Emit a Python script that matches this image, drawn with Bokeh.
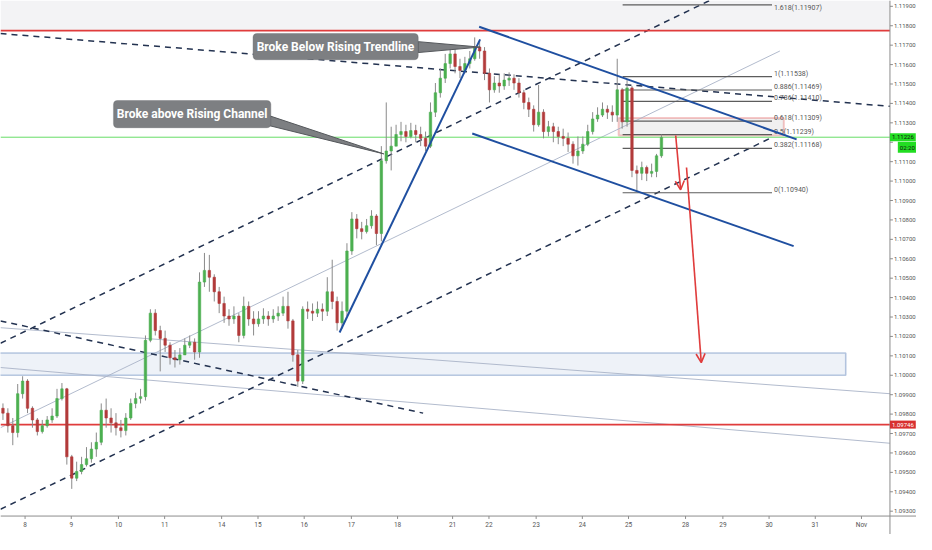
from bokeh.plotting import figure
from bokeh.models import (Range1d, BoxAnnotation, Label, Arrow, OpenHead, ColumnDataSource)
from bokeh.core.properties import value
from bokeh.embed import file_html
from bokeh.resources import INLINE

# ---------------- data (EURUSD-like candles) ----------------
first_open = 1.09830
closes = [1.09805, 1.09740, 1.09705, 1.09905, 1.09970, 1.09830, 1.09770, 1.09710, 1.09740, 1.09770,
          1.09790, 1.09880, 1.09930, 1.09580, 1.09470, 1.09505, 1.09540, 1.09570, 1.09620, 1.09655,
          1.09820, 1.09780, 1.09755, 1.09730, 1.09715, 1.09780, 1.09855, 1.09880, 1.09890, 1.10180,
          1.10320, 1.10230, 1.10190, 1.10155, 1.10090, 1.10080, 1.10105, 1.10155, 1.10170, 1.10120,
          1.10480, 1.10540, 1.10505, 1.10430, 1.10370, 1.10305, 1.10290, 1.10305, 1.10205, 1.10355,
          1.10290, 1.10265, 1.10290, 1.10305, 1.10290, 1.10305, 1.10320, 1.10355, 1.10280, 1.10105,
          1.09970, 1.10340, 1.10330, 1.10320, 1.10340, 1.10330, 1.10430, 1.10380, 1.10270, 1.10330,
          1.10640, 1.10805, 1.10755, 1.10740, 1.10770, 1.10820, 1.10730, 1.11105, 1.11155, 1.11180,
          1.11240, 1.11255, 1.11230, 1.11260, 1.11240, 1.11220, 1.11180, 1.11355, 1.11455, 1.11530,
          1.11605, 1.11655, 1.11590, 1.11570, 1.11605, 1.11630, 1.11690, 1.11670, 1.11555, 1.11470,
          1.11505, 1.11490, 1.11520, 1.11530, 1.11505, 1.11455, 1.11405, 1.11370, 1.11290, 1.11355,
          1.11255, 1.11280, 1.11255, 1.11230, 1.11220, 1.11190, 1.11130, 1.11155, 1.11190, 1.11255,
          1.11320, 1.11340, 1.11370, 1.11355, 1.11340, 1.11470, 1.11305, 1.11480, 1.11055, 1.11040,
          1.11070, 1.11040, 1.11050, 1.11130, 1.11225]
highs = [1.09855, 1.09830, 1.09780, 1.09955, 1.09995, 1.09980, 1.09840, 1.09780, 1.09770, 1.09790,
         1.09830, 1.09930, 1.09960, 1.09935, 1.09590, 1.09555, 1.09580, 1.09630, 1.09655, 1.09705,
         1.09855, 1.09880, 1.09830, 1.09805, 1.09770, 1.09805, 1.09880, 1.09910, 1.09930, 1.10205,
         1.10340, 1.10340, 1.10255, 1.10230, 1.10170, 1.10130, 1.10140, 1.10190, 1.10205, 1.10190,
         1.10530, 1.10630, 1.10620, 1.10520, 1.10455, 1.10405, 1.10340, 1.10355, 1.10320, 1.10405,
         1.10380, 1.10330, 1.10330, 1.10345, 1.10330, 1.10340, 1.10355, 1.10405, 1.10430, 1.10290,
         1.10130, 1.10355, 1.10380, 1.10370, 1.10380, 1.10370, 1.10505, 1.10595, 1.10405, 1.10380,
         1.10680, 1.10840, 1.10830, 1.10790, 1.10805, 1.10850, 1.10830, 1.11180, 1.11405, 1.11280,
         1.11290, 1.11305, 1.11290, 1.11300, 1.11290, 1.11280, 1.11255, 1.11405, 1.11505, 1.11580,
         1.11655, 1.11705, 1.11680, 1.11630, 1.11640, 1.11670, 1.11740, 1.11720, 1.11690, 1.11580,
         1.11540, 1.11550, 1.11555, 1.11560, 1.11550, 1.11530, 1.11470, 1.11430, 1.11390, 1.11495,
         1.11370, 1.11310, 1.11300, 1.11280, 1.11270, 1.11250, 1.11205, 1.11230, 1.11230, 1.11290,
         1.11355, 1.11380, 1.11405, 1.11390, 1.11390, 1.11630, 1.11480, 1.11520, 1.11490, 1.11080,
         1.11100, 1.11080, 1.11090, 1.11140, 1.11240]
lows = [1.09770, 1.09705, 1.09640, 1.09680, 1.09880, 1.09805, 1.09730, 1.09690, 1.09700, 1.09730,
        1.09755, 1.09780, 1.09870, 1.09540, 1.09415, 1.09455, 1.09490, 1.09530, 1.09550, 1.09580,
        1.09640, 1.09730, 1.09705, 1.09690, 1.09680, 1.09690, 1.09770, 1.09830, 1.09855, 1.09870,
        1.10170, 1.10205, 1.10020, 1.10120, 1.10055, 1.10040, 1.10055, 1.10105, 1.10140, 1.10080,
        1.10090, 1.10455, 1.10430, 1.10380, 1.10320, 1.10270, 1.10255, 1.10265, 1.10170, 1.10190,
        1.10255, 1.10205, 1.10250, 1.10265, 1.10255, 1.10270, 1.10280, 1.10305, 1.10240, 1.10070,
        1.09940, 1.09955, 1.10290, 1.10280, 1.10300, 1.10280, 1.10305, 1.10340, 1.10230, 1.10240,
        1.10305, 1.10620, 1.10705, 1.10700, 1.10730, 1.10755, 1.10670, 1.10690, 1.11090, 1.11055,
        1.11180, 1.11205, 1.11200, 1.11220, 1.11200, 1.11180, 1.11155, 1.11170, 1.11330, 1.11430,
        1.11505, 1.11580, 1.11555, 1.11530, 1.11555, 1.11580, 1.11620, 1.11630, 1.11520, 1.11405,
        1.11455, 1.11455, 1.11470, 1.11490, 1.11470, 1.11430, 1.11370, 1.11330, 1.11255, 1.11280,
        1.11220, 1.11230, 1.11200, 1.11190, 1.11180, 1.11150, 1.11090, 1.11080, 1.11140, 1.11180,
        1.11240, 1.11305, 1.11330, 1.11320, 1.11305, 1.11305, 1.11270, 1.11280, 1.11020, 1.10940,
        1.11005, 1.11000, 1.11020, 1.11020, 1.11120]

day_labels = ["8", "9", "10", "11", "14", "15", "16", "17", "18", "21", "22", "23", "24", "25",
              "28", "29", "30", "31", "Nov"]
day_positions = [4.5, 13.9, 23.5, 32.9, 44.5, 51.9, 61.3, 70.9, 80.3, 91.5, 98.9, 108.5, 117.9,
                 127.3, 138.9, 146.5, 155.9, 165.3, 174.7]
price_ticks = [round(1.093 + 0.001 * k, 3) for k in range(27)]
hidden_tick = 1.112          # covered by the live-price tag

# axes geometry (data units)
x_lo, x_hi = -0.5, 185.9      # full canvas width
y_lo, y_hi = 1.09180, 1.11930  # full canvas height
price_axis_x = 180.5          # vertical price-axis line
time_axis_y = 1.09275         # horizontal time-axis line

# horizontal levels
resistance_top = 1.11775
support_bottom = 1.09746
last_price = 1.11226
last_time = "02:20"

# support zone box
zone_left, zone_right, zone_bottom, zone_top = -1.0, 171.5, 1.10000, 1.10115
# fib 0.5 - 0.618 zone
fz_left, fz_right, fz_bottom, fz_top = 125.3, 158.9, 1.11235, 1.11325

# fibonacci retracement
fib_x0, fib_x1 = 126.1, 156.5
fib_ratios = ["1.618", "1", "0.886", "0.786", "0.618", "0.5", "0.382", "0"]
fib_prices = [1.11907, 1.11538, 1.11469, 1.11410, 1.11309, 1.11239, 1.11168, 1.10940]

# trend lines: (x list, price list)
rising_trend_x, rising_trend_y = [68.5, 97.1], [1.10220, 1.11730]
chan_up_x, chan_up_y = [96.9, 161.5], [1.11795, 1.11215]
chan_lo_x, chan_lo_y = [95.5, 160.9], [1.11245, 1.10665]
dash_a_x, dash_a_y = [-0.5, 147.9], [1.10165, 1.11980]
dash_b_x, dash_b_y = [-0.5, 156.1], [1.09310, 1.11220]
dash_c_x, dash_c_y = [-0.5, 180.5], [1.11760, 1.11385]
dash_d_x, dash_d_y = [-0.5, 85.5], [1.10280, 1.09805]
thin_a_x, thin_a_y = [-0.5, 158.1], [1.09730, 1.11670]
thin_b_x, thin_b_y = [-0.5, 180.5], [1.10245, 1.09905]
thin_c_x, thin_c_y = [-0.5, 180.5], [1.10040, 1.09650]

# red arrows (x0, y0, x1, y1)
arrow_1 = (136.9, 1.11235, 137.9, 1.10955)
arrow_2 = (139.1, 1.11070, 142.1, 1.10065)

# callouts
call_1_text = "Broke Below Rising Trendline"
call_1_box = (50.9, 84.5, 1.11625, 1.11760)
call_1_ptr_x, call_1_ptr_y = [84.5, 84.5, 97.1], [1.11718, 1.11662, 1.11690]
call_2_text = "Broke above Rising Channel"
call_2_box = (22.5, 54.5, 1.11275, 1.11415)
call_2_ptr_x, call_2_ptr_y = [53.8, 54.3, 77.5], [1.11340, 1.11285, 1.11140]

# ---------------- figure ----------------
p = figure(width=916, height=534, x_range=Range1d(x_lo, x_hi), y_range=Range1d(y_lo, y_hi),
           output_backend="svg", toolbar_location=None,
           x_axis_location=None, y_axis_location=None,
           min_border_left=0, min_border_top=0, min_border_right=0, min_border_bottom=0)
p.grid.visible = False
p.outline_line_color = None
p.background_fill_color = "white"
p.border_fill_color = "white"

FONT = value("Roboto")
AXC = "#8c8c8c"
LBL = "#555555"

# shaded area above top resistance
p.add_layout(BoxAnnotation(bottom=resistance_top, right=price_axis_x, fill_color="#f3f3f5",
                           fill_alpha=1.0, line_color=None, level="underlay"))
# support zone
p.add_layout(BoxAnnotation(left=zone_left, right=zone_right, bottom=zone_bottom, top=zone_top,
                           fill_color="#eef2f8", fill_alpha=1.0, line_color="#1f4fa0",
                           line_width=1.6, level="underlay"))
# fib zone
p.add_layout(BoxAnnotation(left=fz_left, right=fz_right, bottom=fz_bottom, top=fz_top,
                           fill_color="#ececec", fill_alpha=0.8, line_color="#e04848",
                           line_width=2, level="underlay"))

# thin guide lines
for xs, ys in ((thin_a_x, thin_a_y), (thin_b_x, thin_b_y), (thin_c_x, thin_c_y)):
    p.line(xs, ys, line_color="#aab4c8", line_width=1, line_alpha=0.9)

# dashed channel lines
for xs, ys in ((dash_a_x, dash_a_y), (dash_b_x, dash_b_y), (dash_c_x, dash_c_y), (dash_d_x, dash_d_y)):
    p.line(xs, ys, line_color="#233250", line_width=1.5, line_dash="6 5")

# fibonacci lines and labels
for lv in fib_prices:
    p.line([fib_x0, fib_x1], [lv, lv], line_color="#5c5c5c", line_width=1.2)
fib_texts = ["%s(%.5f)" % (r, v) for r, v in zip(fib_ratios, fib_prices)]
p.text(x=[fib_x1 + 0.4] * (len(fib_prices) - 1), y=fib_prices[1:], text=fib_texts[1:],
       text_font=FONT, text_font_size="7px",
       text_color=LBL, text_baseline="bottom", text_align="left", y_offset=1)
p.text(x=[fib_x1 + 0.4], y=fib_prices[:1], text=fib_texts[:1],
       text_font=FONT, text_font_size="7px",
       text_color=LBL, text_baseline="top", text_align="left", y_offset=-1)

# horizontal levels (stop at the price axis)
p.line([x_lo, price_axis_x], [last_price, last_price], line_color="#66dd66", line_width=1)
p.line([x_lo, price_axis_x], [resistance_top, resistance_top], line_color="#e03c3c", line_width=1.6)
p.line([x_lo, price_axis_x], [support_bottom, support_bottom], line_color="#e03c3c", line_width=1.6)

# candles
n = len(closes)
idx = list(range(n))
opens = [first_open] + closes[:-1]
up = [c >= o for o, c in zip(opens, closes)]
colors = ["#4caf50" if u else "#b23b3b" for u in up]
src = ColumnDataSource(dict(x=idx, o=opens, c=closes, h=highs, l=lows,
                            top=[max(o, c) for o, c in zip(opens, closes)],
                            bot=[min(o, c) for o, c in zip(opens, closes)], col=colors))
p.segment(x0="x", y0="l", x1="x", y1="h", source=src, line_color="#8a8a8a", line_width=1)
p.vbar(x="x", width=0.5, top="top", bottom="bot", source=src, fill_color="col", line_color="col",
       line_width=0.6)

# blue trend lines
for xs, ys in ((rising_trend_x, rising_trend_y), (chan_up_x, chan_up_y), (chan_lo_x, chan_lo_y)):
    p.line(xs, ys, line_color="#1f4fa0", line_width=2)

# red arrows
for a in (arrow_1, arrow_2):
    p.add_layout(Arrow(end=OpenHead(size=9, line_color="#e03c3c", line_width=1.6),
                       x_start=a[0], y_start=a[1], x_end=a[2], y_end=a[3],
                       line_color="#e03c3c", line_width=1.6))

# callouts
for txt, box, px, py in ((call_1_text, call_1_box, call_1_ptr_x, call_1_ptr_y),
                         (call_2_text, call_2_box, call_2_ptr_x, call_2_ptr_y)):
    p.patch(px, py, fill_color="#7d7f82", line_color="#55585c", line_width=1)
    p.add_layout(BoxAnnotation(left=box[0], right=box[1], bottom=box[2], top=box[3],
                               fill_color="#7d7f82", fill_alpha=1.0, line_color="#55585c",
                               line_width=1.2, border_radius=4))
    p.add_layout(Label(x=(box[0] + box[1]) / 2, y=(box[2] + box[3]) / 2, text=txt,
                       text_align="center", text_baseline="middle", text_color="white",
                       text_font="Roboto", text_font_style="bold", text_font_size="12px"))

# ---------------- axes (price axis on the right, time axis below) ----------------
p.line([price_axis_x, price_axis_x], [y_lo, y_hi], line_color=AXC, line_width=1)
p.line([x_lo, x_hi], [time_axis_y, time_axis_y], line_color=AXC, line_width=1)
p.segment(x0=[price_axis_x] * len(price_ticks), y0=price_ticks,
          x1=[price_axis_x + 0.6] * len(price_ticks), y1=price_ticks,
          line_color=AXC, line_width=1)
p.text(x=[price_axis_x + 0.8] * len(price_ticks), y=price_ticks,
       text=["" if abs(t - hidden_tick) < 1e-9 else "%.5f" % t for t in price_ticks],
       text_font=FONT, text_font_size="6px", text_color=LBL,
       text_baseline="middle", text_align="left")
p.segment(x0=day_positions, y0=[time_axis_y] * len(day_positions),
          x1=day_positions, y1=[time_axis_y - 0.00015] * len(day_positions),
          line_color=AXC, line_width=1)
p.text(x=day_positions, y=[time_axis_y - 0.00045] * len(day_positions), text=day_labels,
       text_font=FONT, text_font_size="6.5px", text_color=LBL,
       text_baseline="middle", text_align="center")

# price tags on the axis
p.add_layout(Label(x=price_axis_x, y=last_price, x_offset=0, text="%.5f" % last_price,
                   text_baseline="middle", text_align="left", text_font="Roboto",
                   text_font_size="6px", text_color="#111111",
                   background_fill_color="#22dd22", padding=2))
p.add_layout(Label(x=price_axis_x + 1.6, y=last_price, y_offset=-10, text=last_time,
                   text_baseline="middle", text_align="left", text_font="Roboto",
                   text_font_size="6px", text_color="#111111",
                   background_fill_color="#22dd22", padding=2))
p.add_layout(Label(x=price_axis_x, y=support_bottom, x_offset=0, text="%.5f" % support_bottom,
                   text_baseline="middle", text_align="left", text_font="Roboto",
                   text_font_size="6px", text_color="white",
                   background_fill_color="#d83030", padding=2))

open("out.html", "w").write(file_html(p, INLINE))
